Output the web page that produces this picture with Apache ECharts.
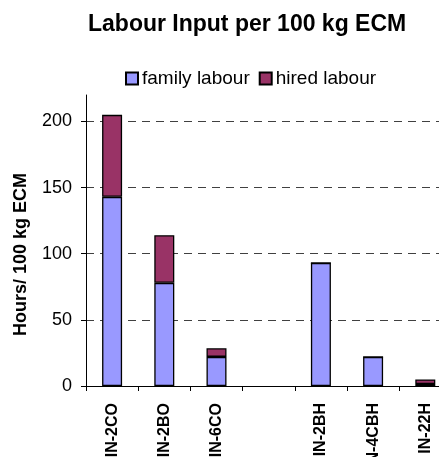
<!DOCTYPE html>
<html>
<head>
<meta charset="utf-8">
<script src="https://cdn.jsdelivr.net/npm/echarts@6/dist/echarts.min.js"></script>
<style>
  html, body { margin: 0; padding: 0; background: #ffffff; }
  #chart { width: 439px; height: 457px; }
</style>
</head>
<body>
<div id="chart"></div>
<script>
// Farm categories along the x axis (blank slot separates the two groups)
const categories = ['IN-2CO', 'IN-2BO', 'IN-6CO', '', 'IN-2BH', 'IN-4CBH', 'IN-22H'];
// Hours per 100 kg ECM
const familyLabour = [143, 78, 22, '-', 93, 22, 1.5];
const hiredLabour = [62, 36, 6.5, '-', 0, 0, 3.5];
// Y axis tick values
const yTicks = [0, 50, 100, 150, 200];

const FONT = '"Liberation Sans", Arial, sans-serif';

const chart = echarts.init(document.getElementById('chart'), null, { renderer: 'canvas' });

chart.setOption({
  animation: false,
  backgroundColor: '#ffffff',
  title: {
    text: 'Labour Input per 100 kg ECM',
    left: 83,
    top: 8,
    textStyle: { fontFamily: FONT, fontSize: 23, fontWeight: 'bold', color: '#000000' }
  },
  legend: {
    data: ['family labour', 'hired labour'],
    left: 120,
    top: 64,
    icon: 'rect',
    itemWidth: 12,
    itemHeight: 12,
    itemGap: 9,
    textStyle: { fontFamily: FONT, fontSize: 19, color: '#000000', padding: [0, 0, 0, -1] }
  },
  grid: {
    left: 86,
    top: 95,
    width: 365.4,
    height: 291,
    containLabel: false,
    outerBoundsMode: 'none'
  },
  xAxis: {
    type: 'category',
    data: categories,
    axisLine: { lineStyle: { color: '#000000', width: 1 } },
    axisTick: { show: true, length: 5, lineStyle: { color: '#000000' } },
    axisLabel: {
      rotate: 90,
      margin: 17,
      fontFamily: FONT,
      fontSize: 16,
      fontWeight: 'bold',
      color: '#000000',
      interval: 0
    },
    splitLine: { show: false }
  },
  yAxis: {
    type: 'value',
    min: 0,
    max: 220,
    interval: 50,
    name: 'Hours/ 100 kg ECM',
    nameLocation: 'middle',
    nameGap: 56,
    nameTextStyle: {
      fontFamily: FONT, fontSize: 18, fontWeight: 'bold', color: '#000000',
      padding: [0, 28, 0, 0]
    },
    axisLine: { show: true, lineStyle: { color: '#000000', width: 1 } },
    axisTick: { show: true, length: 5, customValues: yTicks, lineStyle: { color: '#000000' } },
    axisLabel: {
      customValues: yTicks,
      margin: 14,
      fontFamily: FONT,
      fontSize: 18,
      color: '#000000'
    },
    splitLine: {
      show: true,
      lineStyle: { color: '#404040', width: 1, type: [8, 6] }
    }
  },
  series: [
    {
      name: 'family labour',
      type: 'bar',
      stack: 'labour',
      data: familyLabour,
      barWidth: 20,
      itemStyle: { color: '#9999FF', borderColor: '#000000', borderWidth: 1.3 }
    },
    {
      name: 'hired labour',
      type: 'bar',
      stack: 'labour',
      data: hiredLabour,
      barWidth: 20,
      itemStyle: { color: '#993366', borderColor: '#000000', borderWidth: 1.3 }
    }
  ]
});
</script>
</body>
</html>
